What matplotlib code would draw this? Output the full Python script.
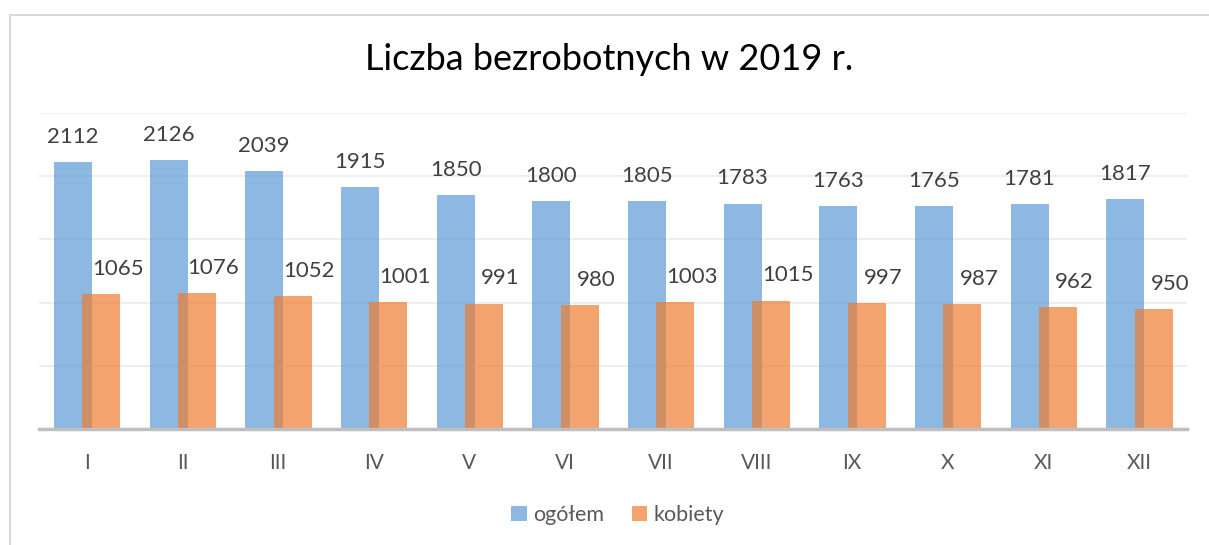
import numpy as np
import matplotlib.pyplot as plt
from matplotlib.patches import Rectangle

months = ['I', 'II', 'III', 'IV', 'V', 'VI', 'VII', 'VIII', 'IX', 'X', 'XI', 'XII']
ogolem = [2112, 2126, 2039, 1915, 1850, 1800, 1805, 1783, 1763, 1765, 1781, 1817]
kobiety = [1065, 1076, 1052, 1001, 991, 980, 1003, 1015, 997, 987, 962, 950]

plt.rcParams['font.family'] = ['Lato', 'DejaVu Sans']

fig = plt.figure(figsize=(12.09, 5.45), dpi=100)
# light frame around the chart area
fig.patches.append(Rectangle((10 / 1209, -0.01), 1.1, 1 - 15 / 545 + 0.01,
                             transform=fig.transFigure, fill=False,
                             edgecolor='#D9D9D9', linewidth=1.5))

ax = fig.add_axes([39 / 1209, 1 - 429 / 545, (1187 - 39) / 1209, (429 - 113) / 545])

x = np.arange(len(months))
w = 0.397
b1 = ax.bar(x - 0.146, ogolem, w, color='#5B9BD5', alpha=0.7, label='ogółem', zorder=2)
b2 = ax.bar(x + 0.15, kobiety, w, color='#ED7D31', alpha=0.7, label='kobiety', zorder=3)

for xi, v in zip(x, ogolem):
    ax.annotate(str(v), (xi - 0.146, v), xytext=(0, 11), textcoords='offset points',
                ha='center', va='bottom', fontsize=16, color='#404040')
for xi, v in zip(x, kobiety):
    ax.annotate(str(v), (xi + 0.15, v), xytext=(12, 11), textcoords='offset points',
                ha='center', va='bottom', fontsize=16, color='#404040')

ax.set_xlim(-0.5, len(months) - 0.5)
ax.set_ylim(0, 2500)
ax.set_yticks(np.arange(0, 2501, 500))
ax.yaxis.grid(True, color='#EBEBEB', linewidth=1.2, zorder=0)
ax.set_axisbelow(True)
ax.tick_params(axis='y', left=False, labelleft=False)
ax.set_xticks(x)
ax.set_xticklabels(months, fontsize=15, color='#595959')
ax.tick_params(axis='x', length=0, pad=17)
for s in ['top', 'right', 'left']:
    ax.spines[s].set_visible(False)
ax.spines['bottom'].set_color('#BFBFBF')
ax.spines['bottom'].set_linewidth(2.5)
ax.spines['bottom'].set_zorder(4)

fig.text(0.504, 1 - 60 / 545, 'Liczba bezrobotnych w 2019 r.', ha='center', va='center',
         fontsize=26, color='#000000')

fig.legend(handles=[b1, b2], loc='center', bbox_to_anchor=(0.511, 1 - 515 / 545), ncol=2,
           frameon=False, fontsize=15.5, labelcolor='#595959', handlelength=0.7,
           handleheight=0.7, handletextpad=0.3, columnspacing=1.3)

fig.savefig('out.png', dpi=100)
